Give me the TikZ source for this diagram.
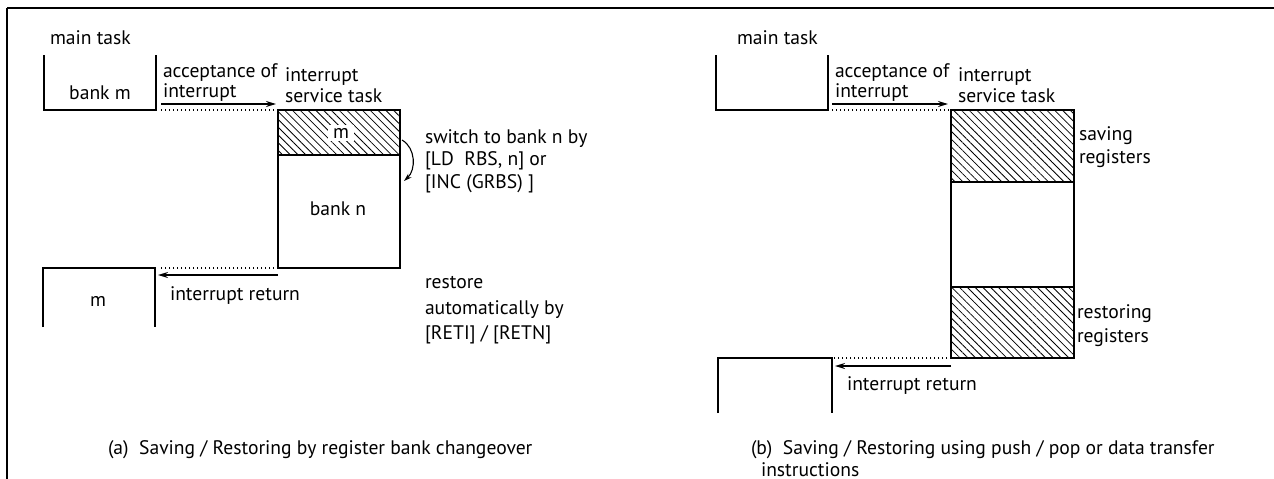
\documentclass[tikz,border=0pt]{standalone}
\usepackage{fontspec}
\setmainfont{PT Sans}
\usetikzlibrary{arrows.meta,patterns.meta,positioning}

\tikzset{
  txt/.style={inner sep=0pt, outer sep=0pt, anchor=base west, font=\fontsize{19.6}{20}\selectfont},
  mid/.style={txt, anchor=base},
  hatch/.style={pattern={Lines[angle=-45,distance=5.5pt,line width=0.8pt]}},
  boxline/.style={line width=1.9pt},
  flow/.style={-{Stealth[length=10pt,width=6pt]}, line width=1.5pt},
  dots/.style={line width=1.4pt, dash pattern=on 1.4pt off 2.6pt}
}

\begin{document}
\begin{tikzpicture}[x=1pt,y=-1pt]
\useasboundingbox (0,0) rectangle (1274,479);

% frame
\draw[line width=2.2pt] (7,8) -- (1274,8);
\draw[line width=1.5pt] (7,8) -- (7,479);

% ---------------- (a) bank changeover ----------------
\node[txt] (amain) at (50,44) {main task};
\draw[boxline] (44,55) -- (44,110) -- (156,110) -- (156,55);
\node[mid] (abankm) at (100,99) {bank m};

\node[txt] (aacc1) at (163,77) {acceptance of};
\node[txt] (aacc2) at (163,97) {interrupt};
\coordinate (aaccS) at (161,104);
\coordinate (aaccE) at (276,104);
\draw[flow] (aaccS) -- (aaccE);
\coordinate (adot1S) at (161,110);
\coordinate (adot1E) at (277,110);
\draw[dots] (adot1S) -- (adot1E);

\node[txt] (aisr1) at (285,81) {interrupt};
\node[txt] (aisr2) at (285,102) {service task};

\fill[hatch] (278,110) rectangle (400,155);
\draw[boxline] (278,110) rectangle (400,268);
\draw[boxline] (278,155) -- (400,155);
\node[mid, fill=white, inner xsep=5pt, inner ysep=3pt] (asave) at (341,138) {m};
\node[mid] (abankn) at (338,215) {bank n};

\coordinate (asw1) at (402,140);
\coordinate (asw2) at (404,181);
\draw[-{Stealth[length=8pt,width=5pt]}, line width=1.1pt] (asw1) .. controls (416,148) and (416,170) .. (asw2);
\node[txt] (asw3) at (425,143) {switch to bank n by};
\node[txt] (asw4) at (425,165) {[LD\ \ RBS, n] or};
\node[txt] (asw5) at (425,188) {[INC (GRBS) ]};

\draw[boxline] (43,327) -- (43,268) -- (155,268) -- (155,327);
\node[mid] (aback) at (98,306) {m};

\coordinate (adot2S) at (160,268);
\coordinate (adot2E) at (278,268);
\draw[dots] (adot2E) -- (adot2S);
\coordinate (aretS) at (278,275);
\coordinate (aretE) at (158,275);
\draw[flow] (aretS) -- (aretE);
\node[txt] (aret) at (170,300) {interrupt return};

\node[txt] (ares1) at (425,288) {restore};
\node[txt] (ares2) at (425,314) {automatically by};
\node[txt] (ares3) at (425,339) {[RETI] / [RETN]};

\node[txt] (acap) at (108,454) {(a)\ \ Saving / Restoring by register bank changeover};

% ---------------- (b) push / pop ----------------
\node[txt] (bmain) at (737,44) {main task};
\draw[boxline] (716,55) -- (716,110) -- (828,110) -- (828,55);

\node[txt] (bacc1) at (835,77) {acceptance of};
\node[txt] (bacc2) at (835,97) {interrupt};
\coordinate (baccS) at (832,104);
\coordinate (baccE) at (948,104);
\draw[flow] (baccS) -- (baccE);
\coordinate (bdot1S) at (832,110);
\coordinate (bdot1E) at (950,110);
\draw[dots] (bdot1S) -- (bdot1E);

\node[txt] (bisr1) at (958,81) {interrupt};
\node[txt] (bisr2) at (958,102) {service task};

\fill[hatch] (951,110) rectangle (1074,182);
\fill[hatch] (951,287) rectangle (1074,358);
\draw[boxline] (951,110) rectangle (1074,358);
\draw[boxline] (951,182) -- (1074,182);
\draw[boxline] (951,287) -- (1074,287);

\node[txt] (bsav1) at (1079,140) {saving};
\node[txt] (bsav2) at (1079,163) {registers};
\node[txt] (bres1) at (1077,318) {restoring};
\node[txt] (bres2) at (1077,342) {registers};

\draw[boxline] (718,413) -- (718,358) -- (832,358) -- (832,413);
\coordinate (bdot2S) at (834,358);
\coordinate (bdot2E) at (951,358);
\draw[dots] (bdot2E) -- (bdot2S);
\coordinate (bretS) at (951,366);
\coordinate (bretE) at (835,366);
\draw[flow] (bretS) -- (bretE);
\node[txt] (bret) at (847,390) {interrupt return};

\node[txt] (bcap1) at (751,454) {(b)\ \ Saving / Restoring using push / pop or data transfer};
\node[txt] (bcap2) at (761,476) {instructions};
\end{tikzpicture}
\end{document}
